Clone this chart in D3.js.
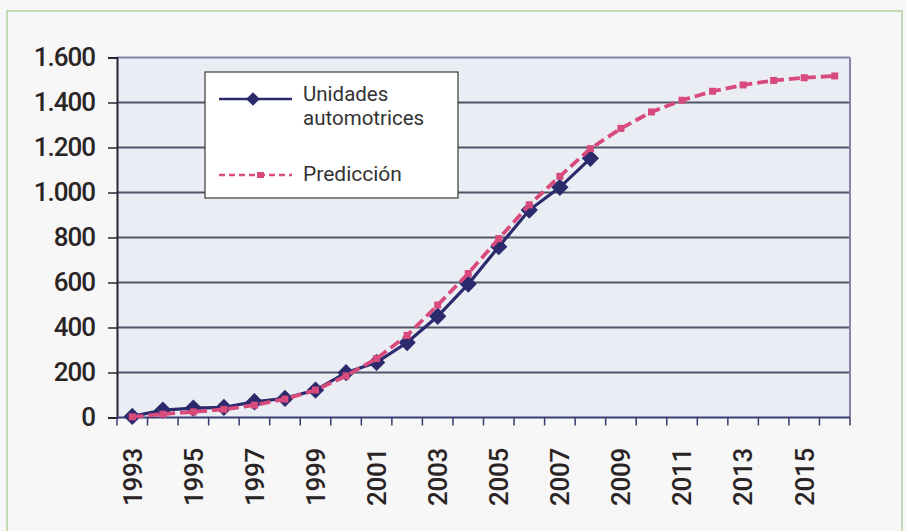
<!DOCTYPE html>
<html>
<head>
<meta charset="utf-8">
<script src="https://cdn.jsdelivr.net/npm/d3@7"></script>
<style>
  html, body { margin: 0; padding: 0; background: #f7f7f7; }
  svg { display: block; }
  text { font-family: Roboto, "Liberation Sans", sans-serif; }
</style>
</head>
<body>
<svg id="chart" width="906" height="531"></svg>
<script>
// Categories: one per year on the category axis
const years = ["1993","1994","1995","1996","1997","1998","1999","2000","2001","2002","2003","2004",
               "2005","2006","2007","2008","2009","2010","2011","2012","2013","2014","2015","2016"];
// Labelled years on the horizontal axis
const yearLabels = ["1993","1995","1997","1999","2001","2003","2005","2007","2009","2011","2013","2015"];
// Observed units (1993–2008)
const unidades = [5, 33, 42, 45, 70, 85, 122, 199, 245, 333, 450, 593, 759, 922, 1023, 1152];
// Fitted prediction (1993–2016)
const prediccion = [3, 15, 25, 36, 55, 82, 122, 185, 262, 365, 500, 640, 795, 945, 1072, 1195,
                    1285, 1358, 1410, 1450, 1478, 1498, 1510, 1518];
// Value axis ticks
const yTicks = [0, 200, 400, 600, 800, 1000, 1200, 1400, 1600];
const seriesNames = ["Unidades", "automotrices", "Predicción"];

const svg = d3.select("#chart");
const plot = { left: 117, right: 850, top: 57.5, bottom: 417.5 };

// outer frame
svg.append("rect")
  .attr("x", 7).attr("y", 11).attr("width", 895).attr("height", 540)
  .attr("fill", "#f7f7f7").attr("stroke", "#b3d19f").attr("stroke-width", 1.5);

const x = d3.scaleBand().domain(years).range([plot.left, plot.right]).padding(0);
const y = d3.scaleLinear().domain([0, 1600]).range([plot.bottom, plot.top]);
const cx = d => x(d) + x.bandwidth() / 2;

const locale = d3.formatLocale({ decimal: ",", thousands: ".", grouping: [3], currency: ["", "€"] });
const fmt = locale.format(",d");

// plot background
svg.append("rect")
  .attr("x", plot.left).attr("y", plot.top)
  .attr("width", plot.right - plot.left).attr("height", plot.bottom - plot.top)
  .attr("fill", "#eaeef4");

// horizontal gridlines
svg.append("g").selectAll("line").data(yTicks.filter(v => v > 0)).join("line")
  .attr("x1", plot.left).attr("x2", plot.right)
  .attr("y1", d => y(d)).attr("y2", d => y(d))
  .attr("stroke", d => d === 1600 ? "#8585ac" : "#525268").attr("stroke-width", 2);

// right border
svg.append("line")
  .attr("x1", plot.right).attr("x2", plot.right).attr("y1", plot.top).attr("y2", plot.bottom)
  .attr("stroke", "#8585ac").attr("stroke-width", 2);

// y axis
const yAxis = svg.append("g")
  .attr("transform", `translate(${plot.left},0)`)
  .call(d3.axisLeft(y).tickValues(yTicks).tickFormat(fmt).tickSize(9).tickPadding(13));
yAxis.select(".domain").attr("stroke", "#2c2236").attr("stroke-width", 2);
yAxis.selectAll(".tick line").attr("stroke", "#2c2236").attr("stroke-width", 1.5);
yAxis.selectAll(".tick text")
  .attr("fill", "#2a2424").style("font-size", "26px").style("font-weight", "500")
  .style("letter-spacing", "-1px");

// x axis: tick marks on category boundaries, labels at category centres
svg.append("line")
  .attr("x1", plot.left).attr("x2", plot.right).attr("y1", plot.bottom).attr("y2", plot.bottom)
  .attr("stroke", "#3a3a72").attr("stroke-width", 2);
const bounds = years.map(d => x(d)).concat([x(years[years.length - 1]) + x.bandwidth()]);
svg.append("g").selectAll("line").data(bounds).join("line")
  .attr("x1", d => d).attr("x2", d => d)
  .attr("y1", plot.bottom).attr("y2", plot.bottom + 8)
  .attr("stroke", "#3a3a72").attr("stroke-width", 1.5);

const xAxis = svg.append("g")
  .attr("transform", `translate(0,${plot.bottom})`)
  .call(d3.axisBottom(x).tickValues(yearLabels).tickSize(0).tickPadding(0));
xAxis.select(".domain").remove();
xAxis.selectAll(".tick text")
  .attr("transform", "rotate(-90)")
  .attr("x", -30.5).attr("y", 0).attr("dy", "0.36em")
  .attr("text-anchor", "end")
  .attr("fill", "#2a2424").style("font-size", "26px").style("font-weight", "500")
  .style("letter-spacing", "-0.3px");

// observed series
const blue = "#2a2a6c", pink = "#d84a7c";
const lineGen = d3.line().x((d, i) => cx(years[i])).y(d => y(d));
svg.append("path").datum(unidades)
  .attr("d", lineGen).attr("fill", "none")
  .attr("stroke", blue).attr("stroke-width", 3.2);
const diamond = d3.symbol().type(d3.symbolDiamond2).size(190);
svg.append("g").selectAll("path").data(unidades).join("path")
  .attr("d", diamond)
  .attr("transform", (d, i) => `translate(${cx(years[i])},${y(d)})`)
  .attr("fill", blue);

// prediction series
svg.append("path").datum(prediccion)
  .attr("d", lineGen).attr("fill", "none")
  .attr("stroke", pink).attr("stroke-width", 3.8).attr("stroke-dasharray", "11,5");
svg.append("g").selectAll("rect").data(prediccion).join("rect")
  .attr("x", (d, i) => cx(years[i]) - 3.5).attr("y", d => y(d) - 3.5)
  .attr("width", 7).attr("height", 7).attr("fill", pink);

// legend
const lg = svg.append("g");
lg.append("rect").attr("x", 205).attr("y", 72).attr("width", 253).attr("height", 126)
  .attr("fill", "#ffffff").attr("stroke", "#3a3a3a").attr("stroke-width", 1.2);
lg.append("line").attr("x1", 219).attr("x2", 292).attr("y1", 99).attr("y2", 99)
  .attr("stroke", blue).attr("stroke-width", 2.5);
lg.append("path").attr("d", d3.symbol().type(d3.symbolDiamond2).size(120))
  .attr("transform", "translate(253,99)").attr("fill", blue);
lg.append("line").attr("x1", 219).attr("x2", 292).attr("y1", 175).attr("y2", 175)
  .attr("stroke", pink).attr("stroke-width", 2.5).attr("stroke-dasharray", "6,4");
lg.append("rect").attr("x", 257).attr("y", 172).attr("width", 7).attr("height", 6).attr("fill", pink);
lg.append("text").attr("x", 303).attr("y", 100.5).attr("fill", "#333")
  .style("font-size", "20.5px").text(seriesNames[0]);
lg.append("text").attr("x", 303).attr("y", 124.5).attr("fill", "#333")
  .style("font-size", "20.5px").text(seriesNames[1]);
lg.append("text").attr("x", 303).attr("y", 181).attr("fill", "#333")
  .style("font-size", "21px").text(seriesNames[2]);
</script>
</body>
</html>
